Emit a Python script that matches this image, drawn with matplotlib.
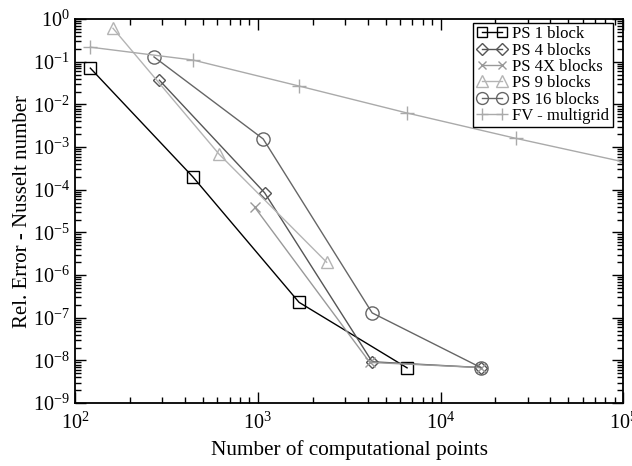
import matplotlib
matplotlib.use('Agg')
import matplotlib.pyplot as plt
from matplotlib.ticker import LogLocator, NullFormatter

plt.rcParams.update({
    'font.family': 'Liberation Serif',
    'mathtext.fontset': 'custom',
    'mathtext.rm': 'Liberation Serif',
    'mathtext.it': 'Liberation Serif:italic',
})

# ---- data ----
n_ps1 = [121, 441, 1681, 6561]
e_ps1 = [7.1e-2, 2.0e-4, 2.3e-7, 6.7e-9]

n_ps4 = [289, 1089, 4225, 16641]
e_ps4 = [3.7e-2, 8.5e-5, 9.3e-9, 6.8e-9]

n_ps4x = [961, 4100, 16641]
e_ps4x = [3.9e-5, 9.0e-9, 6.8e-9]

n_ps9 = [161, 612, 2381]
e_ps9 = [6.1e-1, 6.9e-4, 2.0e-6]

n_ps16 = [270, 1070, 4225, 16641]
e_ps16 = [1.3e-1, 1.55e-3, 1.3e-7, 6.8e-9]

n_fv = [121, 441, 1681, 6561, 25921, 103041]
e_fv = [2.2e-1, 1.1e-1, 2.7e-2, 6.3e-3, 1.6e-3, 4.4e-4]

series = [
    (n_ps1, e_ps1, 'PS 1 block', 's', 8, '#000000'),
    (n_ps4, e_ps4, 'PS 4 blocks', 'D', 6.5, '#555555'),
    (n_ps4x, e_ps4x, 'PS 4X blocks', 'x', 7, '#999999'),
    (n_ps9, e_ps9, 'PS 9 blocks', '^', 9, '#b4b4b4'),
    (n_ps16, e_ps16, 'PS 16 blocks', 'o', 9.5, '#666666'),
    (n_fv, e_fv, 'FV - multigrid', '+', 10, '#aaaaaa'),
]

fig = plt.figure(figsize=(6.32, 4.66), dpi=100)
ax = fig.add_axes([0.119, 0.135, 0.867, 0.824])

for n, e, lab, mk, ms, col in series:
    ax.plot(n, e, color=col, lw=1.0, marker=mk, ms=ms, mfc='none',
            mec=col, mew=1.0, label=lab)

ax.set_xscale('log')
ax.set_yscale('log')
ax.set_xlim(1e2, 1e5)
ax.set_ylim(1e-9, 1e0)

ax.xaxis.set_major_locator(LogLocator(base=10, numticks=10))
ax.yaxis.set_major_locator(LogLocator(base=10, numticks=12))
ax.xaxis.set_minor_locator(LogLocator(base=10, subs=range(2, 10), numticks=12))
ax.yaxis.set_minor_locator(LogLocator(base=10, subs=range(2, 10), numticks=12))
ax.xaxis.set_minor_formatter(NullFormatter())
ax.yaxis.set_minor_formatter(NullFormatter())

ax.tick_params(which='both', direction='in', top=True, right=True,
               labelsize=14.5, width=1.0)
ax.tick_params(which='major', length=8)
ax.tick_params(which='minor', length=4)
ax.tick_params(axis='x', pad=7)
ax.tick_params(axis='y', pad=4)
for sp in ax.spines.values():
    sp.set_linewidth(1.3)

ax.set_xlabel('Number of computational points', fontsize=15.3, labelpad=4.5)
ax.set_ylabel('Rel. Error - Nusselt number', fontsize=15, labelpad=0.5)

leg = ax.legend(loc='upper right', bbox_to_anchor=(0.981, 0.99),
                fontsize=12, numpoints=2, handlelength=1.8,
                handletextpad=0.35, borderpad=0.2, labelspacing=0.02,
                borderaxespad=0.0, fancybox=False, framealpha=1,
                edgecolor='black', markerscale=0.9)
leg.get_frame().set_linewidth(1.0)

fig.savefig('out.png', dpi=100)
